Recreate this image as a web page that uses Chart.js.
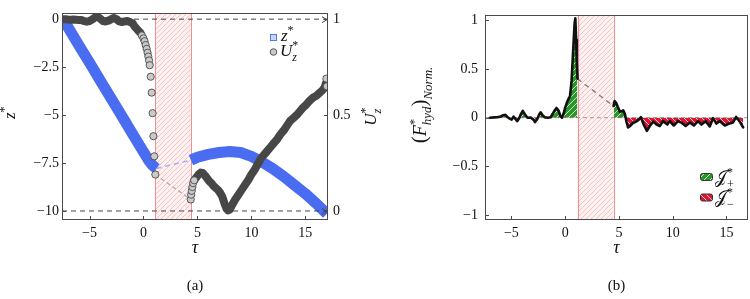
<!DOCTYPE html>
<html><head><meta charset="utf-8">
<script src="https://cdn.jsdelivr.net/npm/chart.js@4.4.0/dist/chart.umd.min.js"></script>
<style>
html,body{margin:0;padding:0;background:#fff;}
#wrap{position:relative;width:750px;height:299px;overflow:hidden;background:#fff;}
canvas{position:absolute;top:0;}
#ca{left:0;}
#cb{left:380px;}
</style></head><body>
<div id="wrap">
<canvas id="ca" width="390" height="299"></canvas>
<canvas id="cb" width="370" height="299"></canvas>
</div>
<script>
// ---------------- data ----------------
const xTickValues = [-5, 0, 5, 10, 15];
const zTickValues = [0, -2.5, -5, -7.5, -10];
const uTickValues = [0, 0.5, 1];
const fTickValues = [-1, -0.5, 0, 0.5, 1];

const contactA = [1.08, 4.38];
const contactB = [1.15, 4.5];

// z* (panel a, left axis)
const tauZpre = [-7.45, -7, -6, -5, -4, -3, -2, -1, 0, 0.5, 0.8, 1.0, 1.2];
const zPre    = [0, -0.42, -1.35, -2.27, -3.2, -4.13, -5.06, -5.99, -6.92, -7.38, -7.6, -7.7, -7.78];
const tauZpost = [4.4, 5, 6, 7, 8, 9, 10, 11, 12, 13, 14, 15, 16, 17];
const zPost    = [-7.35, -7.2, -7.05, -6.95, -6.9, -6.95, -7.15, -7.45, -7.8, -8.2, -8.65, -9.1, -9.6, -10.15];
const tauZgap = [1.2, 4.4];
const zGap    = [-7.78, -7.35];

// U*_z (panel a, right axis)
const tauUband1 = [-7.45, -7.25, -7, -6.75, -6.5, -6.25, -6, -5.75, -5.5, -5.25, -5, -4.75, -4.5, -4.25, -4, -3.75, -3.5, -3.25, -3, -2.75, -2.5, -2.25, -2, -1.75, -1.5, -1.25, -1, -0.8, -0.6, -0.4, -0.3];
const uBand1    = [1.0, 1.0, 0.998, 0.997, 0.998, 0.997, 0.996, 0.995, 0.99, 0.987, 0.99, 0.998, 1.008, 1.012, 1.003, 0.99, 0.988, 0.992, 1.0, 1.006, 1.0, 0.988, 0.985, 0.988, 0.99, 0.985, 0.978, 0.96, 0.948, 0.935, 0.93];
const tauUcirc = [-0.15, 0, 0.1, 0.2, 0.3, 0.38, 0.45, 0.52, 0.58, 0.67, 0.76, 0.85, 0.92, 1.0, 1.1, 4.38, 4.42, 4.47, 4.53, 4.6, 4.7, 16.95, 17.0];
const uCirc    = [0.915, 0.9, 0.885, 0.865, 0.845, 0.825, 0.805, 0.785, 0.76, 0.70, 0.617, 0.51, 0.39, 0.285, 0.19, 0.06, 0.085, 0.105, 0.125, 0.145, 0.16, 0.69, 0.65];
const tauUband2 = [4.7, 4.9, 5.1, 5.3, 5.5, 5.7, 5.9, 6.1, 6.3, 6.5, 6.7, 6.9, 7.1, 7.3, 7.5, 7.7, 7.85, 8.0, 8.2, 8.5, 8.8, 9.1, 9.4, 9.7, 10, 10.3, 10.6, 10.9, 11.2, 11.5, 11.8, 12.1, 12.4, 12.7, 13, 13.3, 13.6, 13.9, 14.2, 14.5, 14.8, 15.1, 15.4, 15.7, 16, 16.3, 16.6, 16.8, 16.9];
const uBand2    = [0.16, 0.175, 0.19, 0.2, 0.198, 0.185, 0.17, 0.155, 0.145, 0.13, 0.12, 0.11, 0.095, 0.075, 0.04, 0.012, 0.003, 0.008, 0.03, 0.06, 0.085, 0.11, 0.135, 0.16, 0.19, 0.215, 0.245, 0.275, 0.295, 0.315, 0.335, 0.355, 0.375, 0.4, 0.42, 0.445, 0.47, 0.485, 0.5, 0.52, 0.54, 0.555, 0.575, 0.59, 0.6, 0.615, 0.63, 0.645, 0.665];
const tauUgap = [1.1, 4.38];
const uGap    = [0.19, 0.06];
const uRefLevels = [1, 0];

// (F*_hyd)_Norm. (panel b)
const tauFpre = [-7.0, -6.6, -6.3, -6.0, -5.75, -5.55, -5.35, -5.15, -4.97, -4.8, -4.6, -4.45, -4.25, -4.1, -3.94, -3.75, -3.5, -3.2, -2.95, -2.8, -2.6, -2.42, -2.27, -2.1, -1.85, -1.6, -1.35, -1.15, -1.0, -0.8, -0.6, -0.45, -0.3, -0.15, 0.0, 0.15, 0.3, 0.45, 0.6, 0.75, 0.88, 0.95, 1.02, 1.08, 1.15];
const fPre    = [0, 0.003, 0.005, 0.012, 0.025, 0.03, 0.005, -0.01, -0.02, 0.01, -0.015, -0.035, 0, 0.04, 0.07, 0.035, 0, 0.002, -0.02, -0.045, -0.015, 0.03, 0.055, 0.025, 0.003, 0, 0.005, 0.04, 0.07, 0.1, 0.07, 0.02, 0, 0.04, 0.1, 0.15, 0.19, 0.22, 0.38, 0.7, 0.97, 1.02, 0.8, 0.58, 0.4];
const tauFpost = [4.5, 4.6, 4.75, 4.9, 5.1, 5.25, 5.4, 5.55, 5.7, 5.85, 6.05, 6.3, 6.6, 6.85, 7.05, 7.3, 7.6, 7.9, 8.2, 8.5, 8.8, 9.1, 9.5, 9.72, 10.1, 10.5, 10.8, 11.2, 11.6, 11.96, 12.36, 12.67, 13.07, 13.44, 13.75, 14.06, 14.37, 14.84, 15.15, 15.6, 15.9, 16.2, 16.55];
const fPost    = [0.12, 0.17, 0.15, 0.11, 0.06, 0.065, 0.075, 0.04, -0.04, -0.1, -0.085, -0.055, -0.04, -0.02, 0.005, -0.07, -0.135, -0.08, -0.04, -0.07, -0.085, -0.035, -0.07, -0.035, -0.08, -0.035, -0.05, -0.085, -0.05, -0.08, -0.035, -0.07, -0.035, -0.09, -0.005, -0.06, -0.035, -0.08, -0.065, -0.05, 0.008, -0.035, -0.1];
const tauFgap = [1.15, 4.5];
const fGap    = [0.4, 0.12];
const fZeroLevel = 0;

// ---------------- helpers ----------------
const SERIF = "'Liberation Serif','Times New Roman',serif";
const pts = (xs, ys) => xs.map((x, i) => ({x: x, y: ys[i]}));
const fmtTick = v => (v < 0 ? '\u2212' : '') + String(Math.abs(v));

function makeHatch(ctx, bg, fg, size, lw, dir) {
  const c = document.createElement('canvas'); c.width = size; c.height = size;
  const g = c.getContext('2d');
  g.fillStyle = bg; g.fillRect(0, 0, size, size);
  g.strokeStyle = fg; g.lineWidth = lw; g.beginPath();
  for (let k = -1; k <= 1; k++) {
    if (dir > 0) { g.moveTo(k * size, size); g.lineTo(k * size + size, 0); }
    else { g.moveTo(k * size, 0); g.lineTo(k * size + size, size); }
  }
  g.stroke();
  return ctx.createPattern(c, 'repeat');
}
function segFont(s) { return (s.it ? 'italic ' : '') + (s.sz || 16) + 'px ' + SERIF; }
function richWidth(ctx, segs) {
  let w = 0, pend = 0;
  for (const s of segs) { ctx.font = segFont(s); const m = ctx.measureText(s.t).width;
    if (s.na) pend = m; else { w += Math.max(m, pend); pend = 0; } }
  return w + pend;
}
function drawRich(ctx, segs, x, y, rot, align) {
  ctx.save(); ctx.translate(x, y); if (rot) ctx.rotate(rot);
  const w = richWidth(ctx, segs); let cx = align === 'left' ? 0 : -w / 2, pend = 0;
  ctx.fillStyle = '#111'; ctx.textBaseline = 'alphabetic'; ctx.textAlign = 'left';
  for (const s of segs) { ctx.font = segFont(s); const m = ctx.measureText(s.t).width;
    ctx.fillText(s.t, cx, s.dy || 0);
    if (s.na) pend = m; else { cx += Math.max(m, pend); pend = 0; } }
  ctx.restore();
}
function shadePlugin(range, pattern) {
  return { id: 'shade', beforeDatasetsDraw(chart) {
    const {ctx, chartArea: a, scales: {x}} = chart;
    const x1 = x.getPixelForValue(range[0]), x2 = x.getPixelForValue(range[1]);
    ctx.save(); ctx.fillStyle = pattern; ctx.fillRect(x1, a.top, x2 - x1, a.bottom - a.top);
    ctx.strokeStyle = '#f29090'; ctx.lineWidth = 1; ctx.beginPath();
    ctx.moveTo(Math.round(x1) + 0.5, a.top); ctx.lineTo(Math.round(x1) + 0.5, a.bottom);
    ctx.moveTo(Math.round(x2) + 0.5, a.top); ctx.lineTo(Math.round(x2) + 0.5, a.bottom);
    ctx.stroke(); ctx.restore(); } };
}
function drawFrame(chart, yLeftId, yRightId) {
  const {ctx, chartArea: a, scales} = chart;
  ctx.save(); ctx.strokeStyle = '#4a4a4a'; ctx.lineWidth = 1;
  ctx.strokeRect(Math.round(a.left) + 0.5, Math.round(a.top) + 0.5, Math.round(a.right - a.left) - 1, Math.round(a.bottom - a.top) - 1);
  ctx.beginPath();
  for (const v of xTickValues) { const p = Math.round(scales.x.getPixelForValue(v)) + 0.5; ctx.moveTo(p, a.bottom); ctx.lineTo(p, a.bottom - 4); }
  if (yLeftId) { const s = scales[yLeftId]; for (const t of s.ticks) { const p = Math.round(s.getPixelForValue(t.value)) + 0.5; ctx.moveTo(a.left, p); ctx.lineTo(a.left + 4, p); } }
  if (yRightId) { const s = scales[yRightId]; for (const t of s.ticks) { const p = Math.round(s.getPixelForValue(t.value)) + 0.5; ctx.moveTo(a.right, p); ctx.lineTo(a.right - 4, p); } }
  ctx.stroke(); ctx.restore();
}
const tickFont = {family: SERIF, size: 14};

// ---------------- chart (a) ----------------
const ctxA = document.getElementById('ca').getContext('2d');
const pinkA = makeHatch(ctxA, '#fdf1f1', '#f6c3c3', 5, 1, 1);
const xMinA = -7.55, xMaxA = 17.1;
const refDs = uRefLevels.map(u => ({data: pts([xMinA, xMaxA], [u, u]), yAxisID: 'yU', borderColor: '#454545', borderWidth: 1, borderDash: [5, 4], pointRadius: 0, fill: false}));

new Chart(ctxA, {
  type: 'line',
  data: { datasets: [
    ...refDs,
    {data: pts(tauUcirc, uCirc), yAxisID: 'yU', showLine: false, pointRadius: 3.6, pointBackgroundColor: '#cacaca', pointBorderColor: '#4a4a4a', pointBorderWidth: 0.9},
    {data: pts(tauUband1, uBand1), yAxisID: 'yU', borderColor: '#474747', borderWidth: 8, borderCapStyle: 'round', borderJoinStyle: 'round', pointRadius: 0},
    {data: pts(tauUband2, uBand2), yAxisID: 'yU', borderColor: '#474747', borderWidth: 8, borderCapStyle: 'round', borderJoinStyle: 'round', pointRadius: 0},
    {data: pts(tauUgap, uGap), yAxisID: 'yU', borderColor: '#a8a8a8', borderWidth: 1.2, borderDash: [4, 3], pointRadius: 0},
    {data: pts(tauZpre, zPre), yAxisID: 'y', borderColor: '#4a6cf0', borderWidth: 11, borderCapStyle: 'butt', borderJoinStyle: 'round', pointRadius: 0},
    {data: pts(tauZpost, zPost), yAxisID: 'y', borderColor: '#4a6cf0', borderWidth: 11, borderCapStyle: 'butt', borderJoinStyle: 'round', pointRadius: 0},
    {data: pts(tauZgap, zGap), yAxisID: 'y', borderColor: '#9db1f3', borderWidth: 1.5, borderDash: [5, 4], pointRadius: 0}
  ]},
  options: {
    responsive: false, animation: false,
    layout: {padding: {top: 5, left: 0, right: 0, bottom: 0}},
    plugins: {legend: {display: false}, tooltip: {enabled: false}},
    elements: {line: {tension: 0, fill: false}},
    scales: {
      x: {type: 'linear', min: xMinA, max: xMaxA, grid: {display: false, drawTicks: false}, border: {display: false},
          afterBuildTicks: s => { s.ticks = xTickValues.map(v => ({value: v})); }, afterFit: s => { s.height = 79; },
          ticks: {padding: 5, font: tickFont, color: '#111', callback: fmtTick, maxRotation: 0, autoSkip: false}},
      y: {position: 'left', min: -10.47, max: 0.3, grid: {display: false, drawTicks: false}, border: {display: false},
          afterBuildTicks: s => { s.ticks = zTickValues.map(v => ({value: v})); }, afterFit: s => { s.width = 62; },
          ticks: {padding: 3, font: tickFont, color: '#111', callback: fmtTick, autoSkip: false}},
      yU: {position: 'right', min: -0.047, max: 1.03, grid: {display: false, drawTicks: false}, border: {display: false},
          afterBuildTicks: s => { s.ticks = uTickValues.map(v => ({value: v})); }, afterFit: s => { s.width = 62; },
          ticks: {padding: 5, font: tickFont, color: '#111', callback: fmtTick, autoSkip: false}}
    }
  },
  plugins: [shadePlugin(contactA, pinkA), {
    id: 'decorA',
    afterDatasetsDraw(chart) {
      const {ctx, chartArea: a, scales} = chart;
      drawFrame(chart, 'y', 'yU');
      ctx.save(); ctx.strokeStyle = '#454545'; ctx.lineWidth = 1;
      for (const u of uRefLevels) { const py = scales.yU.getPixelForValue(u) + 0.5;
        ctx.beginPath(); ctx.moveTo(a.right - 6, py - 3); ctx.lineTo(a.right - 1, py); ctx.lineTo(a.right - 6, py + 3); ctx.stroke(); }
      ctx.fillStyle = '#c9d5f8'; ctx.strokeStyle = '#5577ee'; ctx.lineWidth = 1;
      ctx.fillRect(270, 34, 6, 6); ctx.strokeRect(270.5, 34.5, 6, 6);
      ctx.beginPath(); ctx.arc(273.5, 52, 3.3, 0, Math.PI * 2); ctx.fillStyle = '#cacaca'; ctx.fill(); ctx.strokeStyle = '#555'; ctx.stroke();
      ctx.restore();
      drawRich(ctx, [{t: 'z', it: 1, sz: 17}, {t: '*', sz: 12, dy: -7}], 281, 41, 0, 'left');
      drawRich(ctx, [{t: 'U', it: 1, sz: 17}, {t: '*', sz: 12, dy: -7, na: 1}, {t: 'z', it: 1, sz: 12, dy: 5}], 280, 56, 0, 'left');
      drawRich(ctx, [{t: '\u03C4', it: 1, sz: 18}], (a.left + a.right) / 2, 253, 0);
      drawRich(ctx, [{t: '(a)', sz: 15}], (a.left + a.right) / 2, 290, 0);
      drawRich(ctx, [{t: 'z', it: 1, sz: 17}, {t: '*', sz: 12, dy: -7}], 15, (a.top + a.bottom) / 2 - 4, -Math.PI / 2);
      drawRich(ctx, [{t: 'U', it: 1, sz: 17}, {t: '*', sz: 12, dy: -7, na: 1}, {t: 'z', it: 1, sz: 12, dy: 5}], 376, (a.top + a.bottom) / 2, -Math.PI / 2);
    }
  }]
});

// ---------------- chart (b) ----------------
const ctxB = document.getElementById('cb').getContext('2d');
const pinkB = makeHatch(ctxB, '#fdf1f1', '#f6c3c3', 5, 1, 1);
const greenHatch = makeHatch(ctxB, '#2a962a', 'rgba(255,255,255,0.75)', 6, 1, 1);
const redHatch = makeHatch(ctxB, '#dc1634', 'rgba(255,255,255,0.75)', 6, 1, -1);
const xMinB = -7.45, xMaxB = 17.0;

new Chart(ctxB, {
  type: 'line',
  data: { datasets: [
    {data: pts(tauFpre, fPre), borderColor: '#111', borderWidth: 2.6, borderJoinStyle: 'round', borderCapStyle: 'round', pointRadius: 0,
     fill: {target: 'origin', above: greenHatch, below: redHatch}},
    {data: pts(tauFpost, fPost), borderColor: '#111', borderWidth: 2.6, borderJoinStyle: 'round', borderCapStyle: 'round', pointRadius: 0,
     fill: {target: 'origin', above: greenHatch, below: redHatch}},
    {data: pts(tauFgap, fGap), borderColor: '#7a7a7a', borderWidth: 1.3, borderDash: [5, 4], pointRadius: 0, fill: false},
    {data: pts([xMinB, xMaxB], [fZeroLevel, fZeroLevel]), borderColor: '#9a9a9a', borderWidth: 1, borderDash: [4, 3], pointRadius: 0, fill: false}
  ]},
  options: {
    responsive: false, animation: false,
    layout: {padding: {top: 1, left: 0, right: 2, bottom: 0}},
    plugins: {legend: {display: false}, tooltip: {enabled: false}},
    elements: {line: {tension: 0}},
    scales: {
      x: {type: 'linear', min: xMinB, max: xMaxB, grid: {display: false, drawTicks: false}, border: {display: false},
          afterBuildTicks: s => { s.ticks = xTickValues.map(v => ({value: v})); }, afterFit: s => { s.height = 79; },
          ticks: {padding: 5, font: tickFont, color: '#111', callback: fmtTick, maxRotation: 0, autoSkip: false}},
      y: {position: 'left', min: -1.05, max: 1.05, grid: {display: false, drawTicks: false}, border: {display: false},
          afterBuildTicks: s => { s.ticks = fTickValues.map(v => ({value: v})); }, afterFit: s => { s.width = 105; },
          ticks: {padding: 7, font: tickFont, color: '#111', callback: fmtTick, autoSkip: false}}
    }
  },
  plugins: [shadePlugin(contactB, pinkB), {
    id: 'decorB',
    afterDatasetsDraw(chart) {
      const {ctx, chartArea: a} = chart;
      drawFrame(chart, 'y', null);
      ctx.save(); ctx.lineWidth = 1; ctx.strokeStyle = '#333';
      const boxes = [[greenHatch, 173], [redHatch, 193.5]];
      for (const [pat, yy] of boxes) { ctx.beginPath(); ctx.roundRect(320.5, yy + 0.5, 12, 7, 2); ctx.fillStyle = pat; ctx.fill(); ctx.stroke(); }
      ctx.restore();
      drawRich(ctx, [{t: '\uD835\uDCA5', sz: 17}, {t: '*', sz: 12, dy: -7, na: 1}, {t: '+', sz: 12, dy: 5}], 335, 183, 0, 'left');
      drawRich(ctx, [{t: '\uD835\uDCA5', sz: 17}, {t: '*', sz: 12, dy: -7, na: 1}, {t: '\u2212', sz: 12, dy: 5}], 335, 203, 0, 'left');
      drawRich(ctx, [{t: '\u03C4', it: 1, sz: 18}], (a.left + a.right) / 2, 253, 0);
      drawRich(ctx, [{t: '(b)', sz: 15}], (a.left + a.right) / 2, 290, 0);
      drawRich(ctx, [{t: '(', sz: 21}, {t: 'F', it: 1, sz: 18}, {t: '*', sz: 13, dy: -8, na: 1}, {t: 'hyd', it: 1, sz: 13, dy: 5}, {t: ')', sz: 21}, {t: 'Norm.', it: 1, sz: 13, dy: 6}], 46, 105, -Math.PI / 2);
    }
  }]
});
</script>
</body></html>
